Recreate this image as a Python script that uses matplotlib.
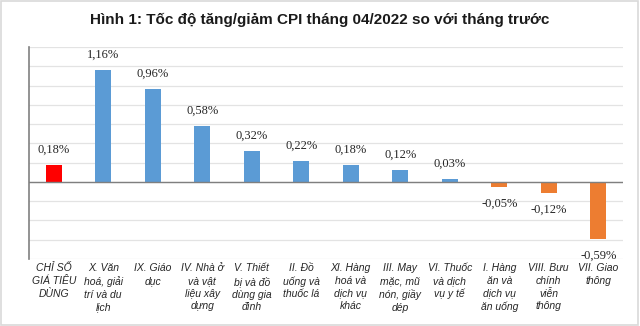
import matplotlib
matplotlib.use("Agg")
import matplotlib.pyplot as plt
from matplotlib.patches import Rectangle

categories = [
    "CHỈ SỐ\nGIÁ TIÊU\nDÙNG",
    "X. Văn\nhoá, giải\ntrí và du\nlịch",
    "IX. Giáo\ndục",
    "IV. Nhà ở\nvà vật\nliệu xây\ndựng",
    "V. Thiết\nbị và đồ\ndùng gia\nđình",
    "II. Đồ\nuống và\nthuốc lá",
    "XI. Hàng\nhoá và\ndịch vụ\nkhác",
    "III. May\nmặc, mũ\nnón, giầy\ndép",
    "VI. Thuốc\nvà dịch\nvụ y tế",
    "I. Hàng\năn và\ndịch vụ\năn uống",
    "VIII. Bưu\nchính\nviễn\nthông",
    "VII. Giao\nthông",
]
values = [0.18, 1.16, 0.96, 0.58, 0.32, 0.22, 0.18, 0.12, 0.03, -0.05, -0.12, -0.59]
title = "Hình 1: Tốc độ tăng/giảm CPI tháng 04/2022 so với tháng trước"

def bar_color(i, v):
    if i == 0:
        return "#FF0000"
    return "#5B9BD5" if v >= 0 else "#ED7D31"

fig = plt.figure(figsize=(6.4, 3.26), dpi=100)
ax = fig.add_axes([29/640, 1-259/326, 594/640, 212/326])

x = list(range(len(values)))
colors = [bar_color(i, v) for i, v in enumerate(values)]
ax.bar(x, values, width=0.32, color=colors, zorder=3)

ax.set_xlim(-0.5, len(values) - 0.5)
ax.set_ylim(-0.8, 1.4)
yt = [round(-0.8 + 0.2 * k, 1) for k in range(12)]
ax.set_yticks(yt)
ax.yaxis.grid(True, color="#E3E3E3", linewidth=0.9, zorder=0)
ax.tick_params(axis="y", length=0, labelleft=False)
ax.tick_params(axis="x", length=0, labelbottom=False)
for s in ["top", "right", "bottom"]:
    ax.spines[s].set_visible(False)
ax.spines["left"].set_color("#808080")
ax.spines["left"].set_linewidth(1.2)
ax.axhline(0, color="#7F7F7F", linewidth=1.0, zorder=4)

for i, v in enumerate(values):
    txt = ("%.2f%%" % v).replace(".", ",")
    off = 11 if v >= 0 else -12
    ax.annotate(txt, (i, v), xytext=(0, off), textcoords="offset points",
                ha="center", va="center", fontsize=9,
                family="Liberation Serif", color="#262626")

for i, c in enumerate(categories):
    ax.text(i, -0.845, c, ha="center", va="top", fontsize=7.5, style="italic",
            family="Liberation Sans", color="#262626", linespacing=1.33,
            transform=ax.transData)

fig.text(0.5, 1-20/326, title, ha="center", va="center", fontsize=11,
         fontweight="bold", family="Liberation Sans", color="#1A1A1A")

fig.patches.append(Rectangle((0.002, 0.003), 0.995, 0.993, transform=fig.transFigure,
                             fill=False, edgecolor="#D9D9D9", linewidth=1.2))

fig.savefig("out.png", dpi=100)
